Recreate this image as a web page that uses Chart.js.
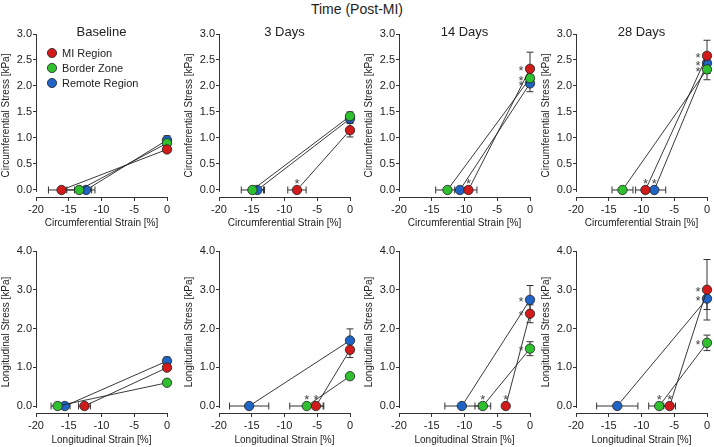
<!DOCTYPE html>
<html>
<head>
<meta charset="utf-8">
<script src="https://cdn.jsdelivr.net/npm/chart.js@4/dist/chart.umd.min.js"></script>
<style>
  body { margin: 0; background: #fff; width: 714px; height: 447px; position: relative; overflow: hidden;
         font-family: "Liberation Sans", Arial, sans-serif; }
  canvas { position: absolute; }
  #mainTitle { position: absolute; left: 0; top: 1px; width: 714px; text-align: center; font-size: 14px; color: #222; }
</style>
</head>
<body>
<div id="mainTitle">Time (Post-MI)</div>
<script>
// ---- data (per time point: [MI Region, Border Zone, Remote Region]) ----
const timePoints = ["Baseline", "3 Days", "14 Days", "28 Days"];
const regions = ["MI Region", "Border Zone", "Remote Region"];
const regionColors = ["#d11a1a", "#2fbf2f", "#1f63c4"];

const strainTicks = [-20, -15, -10, -5, 0];
const circStressTicks = [0, 0.5, 1.0, 1.5, 2.0, 2.5, 3.0];
const longStressTicks = [0, 1.0, 2.0, 3.0, 4.0];

const circStrain = [[-16.1, -13.4, -12.35], [-8.1, -14.9, -14.15], [-9.4, -12.6, -10.7], [-9.4, -12.9, -8.05]];
const circStrainErr = [[2.0, 1.9, 1.35], [1.4, 1.7, 1.1], [1.3, 1.8, 0.8], [1.5, 1.6, 1.75]];
const circStress = [[0.78, 0.90, 0.96], [1.15, 1.42, 1.37], [2.33, 2.15, 2.05], [2.58, 2.32, 2.44]];
const circStressErr = [[0.05, 0.05, 0.08], [0.13, 0.08, 0.07], [0.32, 0.15, 0.16], [0.3, 0.2, 0.2]];
const circStrainSig = [[0, 0, 0], [1, 0, 0], [1, 0, 0], [1, 0, 1]];
const circStressSig = [[0, 0, 0], [0, 0, 0], [1, 1, 1], [1, 1, 1]];

const longStrain = [[-12.6, -16.7, -15.6], [-5.2, -6.6, -15.4], [-3.7, -7.2, -10.4], [-5.7, -7.3, -13.7]];
const longStrainErr = [[0.9, 1.0, 0.8], [1.1, 2.6, 3.0], [0.3, 1.2, 2.6], [0.9, 1.6, 3.15]];
const longStress = [[0.99, 0.60, 1.16], [1.45, 0.77, 1.69], [2.38, 1.48, 2.74], [3.0, 1.63, 2.77]];
const longStressErr = [[0.05, 0.05, 0.1], [0.2, 0.05, 0.3], [0.23, 0.18, 0.37], [0.78, 0.2, 0.28]];
const longStrainSig = [[0, 0, 0], [1, 1, 0], [1, 1, 0], [1, 1, 0]];
const longStressSig = [[0, 0, 0], [0, 0, 0], [1, 1, 1], [1, 1, 1]];

const FONT = "'Liberation Sans', Arial, sans-serif";
const INK = "#222";
const axisLeft = [36, 219, 399, 576];

const rows = [
  { strain: circStrain, strainErr: circStrainErr, stress: circStress, stressErr: circStressErr,
    strainSig: circStrainSig, stressSig: circStressSig, yTicks: circStressTicks,
    xTitle: "Circumferential Strain [%]", yTitle: "Circumferential Stress [kPa]",
    yMin: -0.135, yMax: 3, top: 0, height: 230, padTop: 34, xAxisH: 33, titles: true },
  { strain: longStrain, strainErr: longStrainErr, stress: longStress, stressErr: longStressErr,
    strainSig: longStrainSig, stressSig: longStressSig, yTicks: longStressTicks,
    xTitle: "Longitudinal Strain [%]", yTitle: "Longitudinal Stress [kPa]",
    yMin: -0.18, yMax: 4, top: 230, height: 217, padTop: 21, xAxisH: 34, titles: false }
];

// error bars, drawn behind the points
const errorBars = {
  id: "errorBars",
  beforeDatasetsDraw(chart, args, opts) {
    const { ctx, scales: { x, y } } = chart;
    const cap = 3.5;
    ctx.save();
    ctx.strokeStyle = "#333";
    ctx.lineWidth = 1;
    regions.forEach((_, i) => {
      // horizontal bar on strain point
      const y0 = y.getPixelForValue(0);
      const xa = x.getPixelForValue(opts.strain[i] - opts.strainErr[i]);
      const xb = x.getPixelForValue(opts.strain[i] + opts.strainErr[i]);
      ctx.beginPath();
      ctx.moveTo(xa, y0); ctx.lineTo(xb, y0);
      ctx.moveTo(xa, y0 - cap); ctx.lineTo(xa, y0 + cap);
      ctx.moveTo(xb, y0 - cap); ctx.lineTo(xb, y0 + cap);
      ctx.stroke();
      // vertical bar on stress point
      const x0 = x.getPixelForValue(0);
      const ya = y.getPixelForValue(opts.stress[i] - opts.stressErr[i]);
      const yb = y.getPixelForValue(opts.stress[i] + opts.stressErr[i]);
      ctx.beginPath();
      ctx.moveTo(x0, ya); ctx.lineTo(x0, yb);
      ctx.moveTo(x0 - cap, ya); ctx.lineTo(x0 + cap, ya);
      ctx.moveTo(x0 - cap, yb); ctx.lineTo(x0 + cap, yb);
      ctx.stroke();
    });
    ctx.restore();
  },
  afterDatasetsDraw(chart, args, opts) {
    // significance asterisks
    const { ctx, scales: { x, y } } = chart;
    ctx.save();
    ctx.fillStyle = "#444";
    ctx.font = "13px " + FONT;
    ctx.textAlign = "center";
    ctx.textBaseline = "middle";
    regions.forEach((_, i) => {
      if (opts.strainSig[i]) ctx.fillText("*", x.getPixelForValue(opts.strain[i]), y.getPixelForValue(0) - 6);
      if (opts.stressSig[i]) ctx.fillText("*", x.getPixelForValue(0) - 9, y.getPixelForValue(opts.stress[i]) + 3);
    });
    ctx.restore();
  }
};

// detached y axis line, panel title, legend
const decorations = {
  id: "decorations",
  afterDraw(chart, args, opts) {
    const { ctx, chartArea, scales: { y } } = chart;
    ctx.save();
    ctx.strokeStyle = "#333";
    ctx.lineWidth = 1;
    ctx.beginPath();
    ctx.moveTo(chartArea.left + 0.5, y.getPixelForValue(y.max));
    ctx.lineTo(chartArea.left + 0.5, y.getPixelForValue(0) + 2);
    ctx.stroke();

    ctx.fillStyle = INK;
    if (opts.title) {
      ctx.font = "13px " + FONT;
      ctx.textAlign = "center";
      ctx.textBaseline = "middle";
      ctx.fillText(opts.title, (chartArea.left + chartArea.right) / 2, 32);
    }
    if (opts.legend) {
      ctx.font = "11px " + FONT;
      ctx.textAlign = "left";
      ctx.textBaseline = "middle";
      regions.forEach((name, i) => {
        const cy = chartArea.top + 19 + i * 15;
        ctx.beginPath();
        ctx.arc(chartArea.left + 16, cy, 4.6, 0, Math.PI * 2);
        ctx.fillStyle = regionColors[i];
        ctx.fill();
        ctx.lineWidth = 0.8;
        ctx.strokeStyle = INK;
        ctx.stroke();
        ctx.fillStyle = INK;
        ctx.fillText(name, chartArea.left + 26, cy + 0.5);
      });
    }
    ctx.restore();
  }
};

rows.forEach((row, r) => {
  timePoints.forEach((tp, t) => {
    const canvas = document.createElement("canvas");
    canvas.width = 174;
    canvas.height = row.height;
    canvas.style.left = (axisLeft[t] - 36) + "px";
    canvas.style.top = row.top + "px";
    document.body.appendChild(canvas);

    const datasets = regions.map((name, i) => ({
      label: name,
      data: [{ x: row.strain[t][i], y: 0 }, { x: 0, y: row.stress[t][i] }],
      showLine: true,
      borderColor: INK,
      borderWidth: 0.9,
      backgroundColor: regionColors[i],
      pointBackgroundColor: regionColors[i],
      pointBorderColor: INK,
      pointBorderWidth: 0.8,
      pointRadius: 4.7,
      clip: false
    }));

    new Chart(canvas, {
      type: "scatter",
      data: { datasets },
      plugins: [errorBars, decorations],
      options: {
        responsive: false,
        animation: false,
        layout: { padding: { top: row.padTop, right: 7, left: 0, bottom: 0 } },
        plugins: {
          legend: { display: false },
          tooltip: { enabled: false },
          errorBars: {
            strain: row.strain[t], strainErr: row.strainErr[t],
            stress: row.stress[t], stressErr: row.stressErr[t],
            strainSig: row.strainSig[t], stressSig: row.stressSig[t]
          },
          decorations: { title: row.titles ? tp : null, legend: r === 0 && t === 0 }
        },
        scales: {
          x: {
            type: "linear", min: -20, max: 0,
            ticks: { color: INK, font: { family: FONT, size: 11 }, padding: 2, maxRotation: 0 },
            grid: { display: true, drawOnChartArea: false, tickLength: 4, color: "#333" },
            border: { display: true, color: "#333", width: 1 },
            title: { display: true, text: row.xTitle, color: INK, font: { family: FONT, size: 10 }, padding: { top: 0, bottom: 1 } },
            afterBuildTicks: s => { s.ticks = strainTicks.map(v => ({ value: v })); },
            afterFit: s => { s.height = row.xAxisH; }
          },
          y: {
            type: "linear", min: row.yMin, max: row.yMax,
            ticks: { color: INK, font: { family: FONT, size: 11 }, padding: 1,
                     callback: v => v.toFixed(1) },
            grid: { display: true, drawOnChartArea: false, tickLength: 3, color: "#333" },
            border: { display: false },
            title: { display: true, text: row.yTitle, color: INK, font: { family: FONT, size: 10 }, padding: { top: 0, bottom: 0 } },
            afterBuildTicks: s => { s.ticks = row.yTicks.map(v => ({ value: v })); },
            afterFit: s => { s.width = 36; }
          }
        }
      }
    });
  });
});
</script>
</body>
</html>
